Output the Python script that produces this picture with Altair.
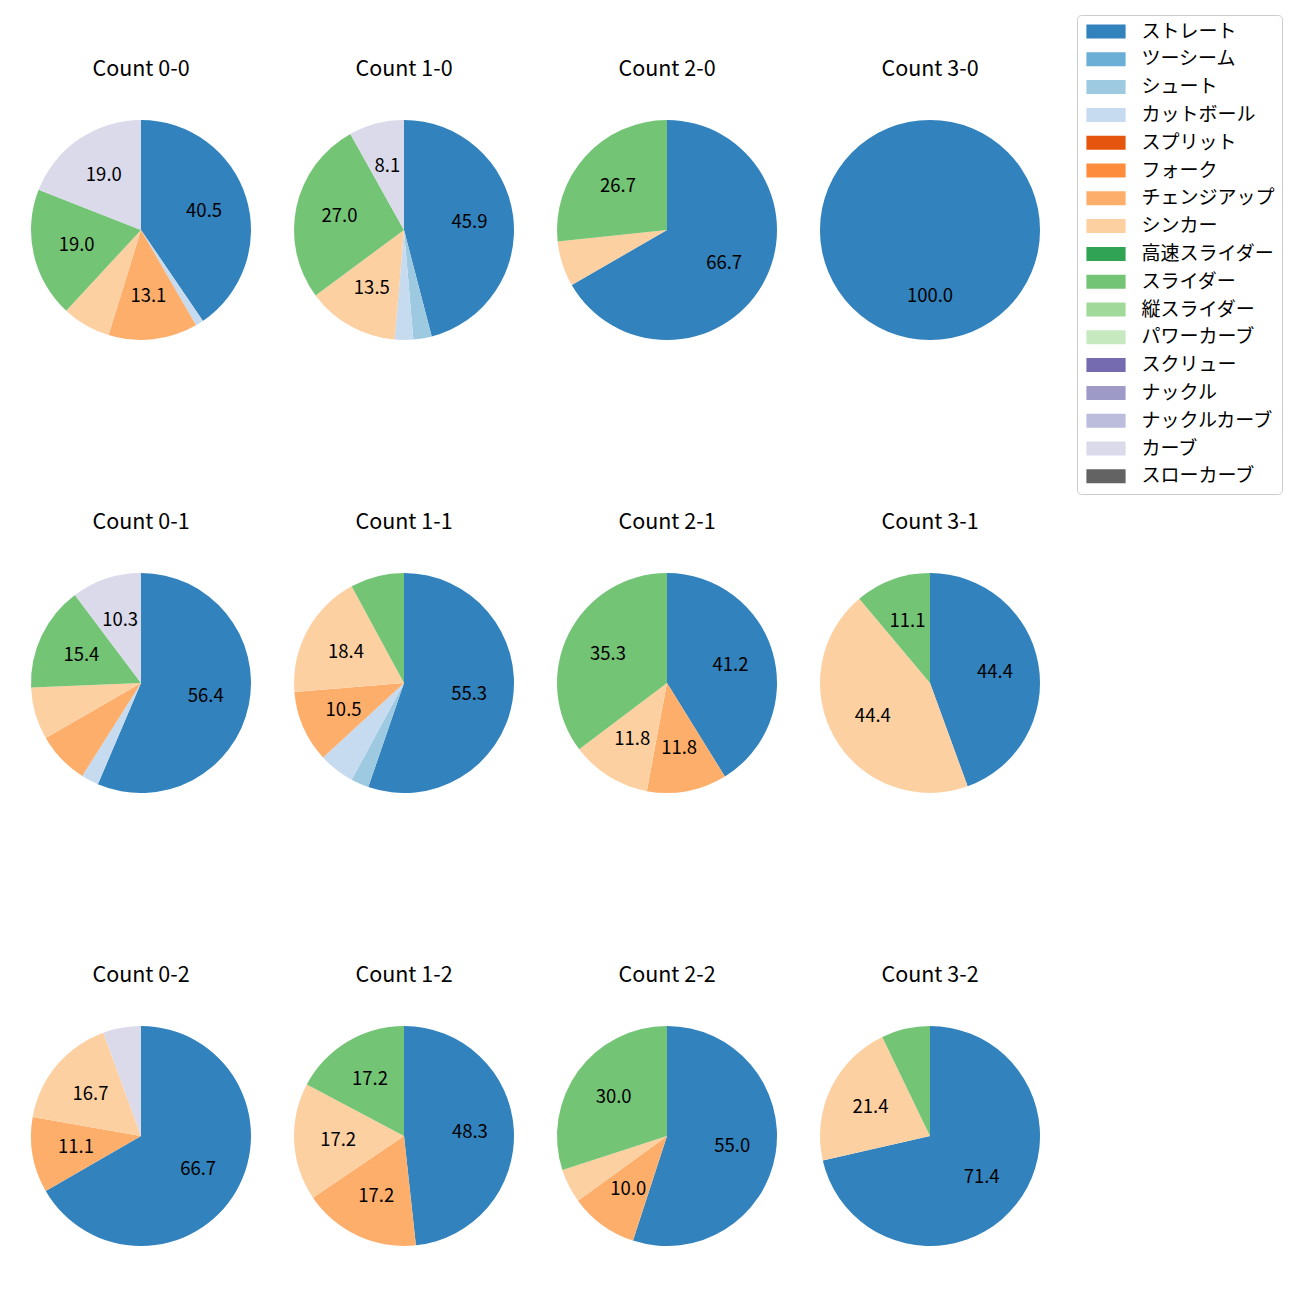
import altair as alt
import pandas as pd

pitch_types = ["ストレート", "ツーシーム", "シュート", "カットボール", "スプリット", "フォーク",
               "チェンジアップ", "シンカー", "高速スライダー", "スライダー", "縦スライダー",
               "パワーカーブ", "スクリュー", "ナックル", "ナックルカーブ", "カーブ", "スローカーブ"]
colors = ["#3182bd", "#6baed6", "#9ecae1", "#c6dbef", "#e6550d", "#fd8d3c", "#fdae6b",
          "#fdd0a2", "#31a354", "#74c476", "#a1d99b", "#c7e9c0", "#756bb1", "#9e9ac8",
          "#bcbddc", "#dadaeb", "#636363"]

# pitch counts per ball-strike count, in pitch_types order
counts = {
    "0-0": [34, 0, 0, 1, 0, 0, 11, 6, 0, 16, 0, 0, 0, 0, 0, 16, 0],
    "1-0": [17, 0, 1, 1, 0, 0, 0, 5, 0, 10, 0, 0, 0, 0, 0, 3, 0],
    "2-0": [10, 0, 0, 0, 0, 0, 0, 1, 0, 4, 0, 0, 0, 0, 0, 0, 0],
    "3-0": [3, 0, 0, 0, 0, 0, 0, 0, 0, 0, 0, 0, 0, 0, 0, 0, 0],
    "0-1": [22, 0, 0, 1, 0, 0, 3, 3, 0, 6, 0, 0, 0, 0, 0, 4, 0],
    "1-1": [21, 0, 1, 2, 0, 0, 4, 7, 0, 3, 0, 0, 0, 0, 0, 0, 0],
    "2-1": [7, 0, 0, 0, 0, 0, 2, 2, 0, 6, 0, 0, 0, 0, 0, 0, 0],
    "3-1": [4, 0, 0, 0, 0, 0, 0, 4, 0, 1, 0, 0, 0, 0, 0, 0, 0],
    "0-2": [12, 0, 0, 0, 0, 0, 2, 3, 0, 0, 0, 0, 0, 0, 0, 1, 0],
    "1-2": [14, 0, 0, 0, 0, 0, 5, 5, 0, 5, 0, 0, 0, 0, 0, 0, 0],
    "2-2": [11, 0, 0, 0, 0, 0, 2, 1, 0, 6, 0, 0, 0, 0, 0, 0, 0],
    "3-2": [10, 0, 0, 0, 0, 0, 0, 3, 0, 1, 0, 0, 0, 0, 0, 0, 0],
}
balls = [0, 1, 2, 3]
strikes = [0, 1, 2]

FONT = "Noto Sans CJK JP"
R = 110

color_scale = alt.Scale(domain=pitch_types, range=colors)


def panel(key, show_legend):
    vals = counts[key]
    total = sum(vals)
    rows = []
    for i, (p, v) in enumerate(zip(pitch_types, vals)):
        if v > 0:
            pct = 100.0 * v / total
            rows.append({"pitch": p, "n": v, "ord": i, "pct": pct,
                         "label": f"{pct:.1f}" if pct >= 8 else ""})
    df = pd.DataFrame(rows)
    base = alt.Chart(df).encode(
        theta=alt.Theta("n:Q", stack=True),
        order=alt.Order("ord:Q", sort="ascending"),
    )
    arc = base.mark_arc(outerRadius=R).encode(
        color=alt.Color("pitch:N", scale=color_scale,
                        legend=alt.Legend(title=None) if show_legend else None),
    )
    txt = base.mark_text(radius=R * 0.6, font=FONT, fontSize=18.5, color="#000000").encode(
        text="label:N"
    )
    return alt.layer(arc, txt).properties(
        width=2 * R, height=2 * R,
        title=alt.TitleParams(f"Count {key}", font=FONT, fontSize=21.5, fontWeight="normal",
                              color="#000000", offset=40),
    )


rows_charts = []
for s in strikes:
    row = [panel(f"{b}-{s}", show_legend=(b == 0 and s == 0)) for b in balls]
    rows_charts.append(alt.hconcat(*row, spacing=43))

chart = alt.vconcat(*rows_charts, spacing=171).resolve_scale(color="shared").properties(
    padding={"left": 23, "top": 6, "right": 0, "bottom": 5}
).configure_view(stroke=None).configure_legend(
    orient="none", legendX=1046, legendY=-105,
    labelFont=FONT, labelFontSize=19, labelColor="#000000", labelOffset=26,
    symbolType="M-2.8,-1H2.8V1H-2.8Z", symbolSize=196, symbolStrokeWidth=0,
    symbolOffset=12.5, symbolOpacity=1,
    rowPadding=7.8, padding=7, strokeColor="#cccccc", fillColor="#ffffff",
    cornerRadius=4, labelLimit=300,
)

chart.save("out.html", embed_options={"renderer": "svg", "actions": False})
